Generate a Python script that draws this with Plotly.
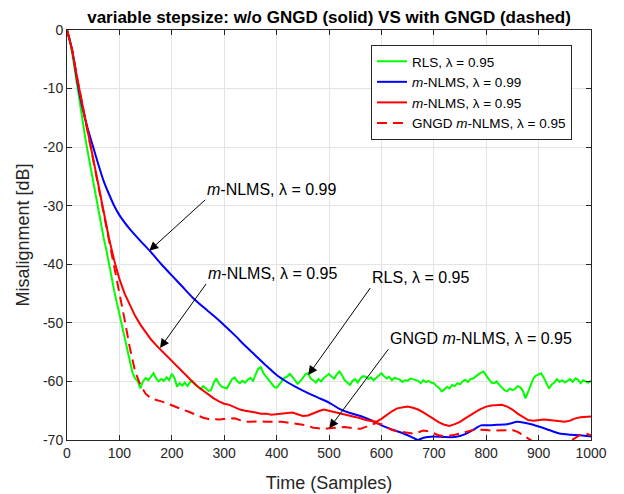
import plotly.graph_objects as go

# ---------------- data ----------------
n_rls = list(range(0, 1001, 5))
rls_db = [
    0, -1.5, -4, -7, -10, -12.5, -15.5, -18.5, -21, -23.5,
    -26, -28.5, -30.5, -33, -35.5, -37.5, -40, -42, -44.5, -46.5,
    -48.5, -50.5, -52.5, -54.5, -56.5, -58.5, -59.5, -60, -61.2, -60,
    -59.4, -59.8, -59.2, -58.6, -59.5, -60, -59.6, -59.9, -59.3, -59.8,
    -58.7, -59.4, -60.9, -60.3, -60.7, -60.2, -60.8, -60.1, -60, -60.6,
    -60.9, -61.3, -60.8, -61.2, -61.6, -61.5, -60.2, -59.5, -60.4, -60.9,
    -61, -61.2, -60.4, -59.6, -59.3, -60, -60.3, -59.9, -60.2, -59.7,
    -59.4, -59.9, -58.8, -57.8, -57.6, -58.6, -59.2, -59.8, -60.4, -60.9,
    -61.1, -60.5, -60, -59.4, -59.2, -58.7, -59.2, -59.9, -60.4, -60,
    -59.4, -58.8, -58.6, -59.5, -59.8, -60.2, -59.6, -60, -59.4, -59.1,
    -58.7, -59.2, -59.5, -58.8, -58.3, -59, -59.8, -60.2, -60.6, -59.9,
    -59.6, -60.2, -59.5, -59.1, -59.2, -59.6, -59.3, -59.8, -59.4, -58.9,
    -58.6, -59.1, -59.5, -59.2, -59.8, -59.4, -59.6, -59.7, -60.1, -59.8,
    -59.9, -59.5, -59.6, -59.7, -59.9, -60.3, -59.8, -60.1, -59.9, -60.2,
    -60.3, -60.8, -61.1, -61.7, -61.4, -60.9, -61.2, -60.6, -60.8, -60.3,
    -60.5, -60, -59.7, -60.1, -59.6, -59.5, -59.1, -58.8, -58.5, -58.3,
    -59, -59.6, -60.2, -60.3, -60, -60.6, -61.1, -61.5, -61.7, -61.2,
    -61.5, -61.3, -60.8, -61, -61.6, -62.9, -61.8, -60.6, -59.5, -59,
    -58.8, -58.6, -59.4, -60.3, -61.2, -60.5, -60.2, -59.6, -60.1, -59.8,
    -60.2, -59.9, -59.6, -60.1, -59.5, -59.7, -60.3, -59.8, -60, -60.2,
    -59.9,
]

n_nlms99 = [0, 10, 20, 30, 40, 50, 60, 70, 80, 90, 100, 120, 140, 160, 180,
            200, 220, 240, 260, 280, 300, 320, 340, 360, 380, 400, 420, 440,
            460, 480, 500, 520, 540, 560, 580, 600, 620, 640, 660, 670, 680,
            700, 720, 740, 760, 780, 790, 800, 820, 840, 860, 880, 900, 920,
            940, 960, 980, 1000]
nlms99_db = [0, -3.5, -9, -13.5, -17, -20, -23, -25.8, -28, -30, -31.6, -34,
             -36, -37.9, -40, -41.9, -43.8, -45.7, -47.3, -48.8, -50.4, -52.1,
             -53.9, -55.6, -57.3, -58.9, -60.1, -61.1, -62, -62.8, -63.6,
             -64.7, -65.4, -65.9, -66.6, -67.5, -68.2, -68.8, -69.6, -70,
             -69.6, -69.4, -69.5, -69.5, -69, -68, -67.5, -67.5, -67.4, -67.3,
             -66.9, -67.2, -67.7, -68.3, -68.9, -69.1, -69.2, -69.4]

n_step10 = list(range(0, 1001, 10))
nlms95_db = [
    0, -3.5, -8.5, -13, -17.5, -22, -26.5, -31, -35.5, -39.3,
    -42.5, -45, -47, -48.8, -50.3, -51.6, -52.8, -53.8, -54.7, -55.7,
    -56.6, -57.5, -58.4, -59.3, -60.1, -60.9, -61.6, -62.3, -62.9, -63.4,
    -63.8, -64, -64.4, -64.8, -65, -65.1, -65.3, -65.5, -65.5, -65.7,
    -65.6, -65.5, -65.4, -65.3, -65.6, -65.9, -65.8, -65.4, -65.1, -64.8,
    -65, -65.3, -65.4, -65.6, -65.8, -66, -66.3, -66.6, -66.8, -66.9,
    -66.4, -65.7, -65.1, -64.6, -64.4, -64.3, -64.5, -64.8, -65.3, -65.9,
    -66.5, -67, -67.4, -67.6, -67.3, -66.9, -66.3, -65.7, -65.2, -64.7,
    -64.3, -64.1, -64, -64, -64.3, -64.8, -65.5, -66.1, -66.6, -66.7,
    -66.6, -66.5, -66.6, -66.7, -66.8, -66.9, -66.7, -66.3, -66.1, -66,
    -66,
]
gngd95_db = [
    0, -3.5, -8.5, -13, -17.5, -22, -26.5, -31, -35.5, -40.2,
    -45, -49.5, -54.3, -58.3, -60.6, -62.1, -62.9, -63.1, -63.4, -63.7,
    -64.1, -64.4, -64.8, -65.1, -65.5, -65.9, -66.2, -66.4, -66.5, -66.5,
    -66.4, -66.3, -66.3, -66.6, -66.9, -66.9, -66.8, -66.8, -66.9, -66.9,
    -66.8, -66.9, -67, -67.1, -67.2, -67.4, -67.6, -67.9, -68, -68.1,
    -68, -67.9, -67.8, -67.8, -67.9, -68.1, -68.1, -67.8, -67.4, -67.1,
    -67.3, -67.8, -68.3, -68.5, -68.6, -68.8, -68.9, -68.7, -68.4, -68.5,
    -68.9, -69.2, -69.4, -69.3, -69.1, -68.9, -68.6, -68.4, -68.2, -68.2,
    -68.3, -68.4, -68.4, -68.4, -68.3, -68.3, -68.6, -69.2, -69.8, -70.3,
    -70.6, -70.8, -70.8, -70.7, -70.6, -70.4, -70.2, -69.6, -69.1, -68.9,
    -69.2,
]

x_tick_vals = [0, 100, 200, 300, 400, 500, 600, 700, 800, 900, 1000]
x_tick_text = ["0", "100", "200", "300", "400", "500", "600", "700", "800", "900", "1000"]
y_tick_vals = [0, -10, -20, -30, -40, -50, -60, -70]
y_tick_text = ["0", "-10", "-20", "-30", "-40", "-50", "-60", "-70"]

labels = {
    "rls": "RLS, λ = 0.95",
    "n99": "<i>m</i>-NLMS, λ = 0.99",
    "n95": "<i>m</i>-NLMS, λ = 0.95",
    "gngd": "GNGD <i>m</i>-NLMS, λ = 0.95",
}

# annotation arrow heads (data coords) and tail offsets (pixels)
ann_points = [
    ("n99", 157, -37.7, 56, -51),
    ("n95", 177.5, -54.3, 46, -64),
    ("rls", 460.5, -58.9, 62, -87),
    ("gngd", 500.6, -68.0, 59, -79),
]

FONT = "Liberation Sans, Arial, Helvetica, sans-serif"
TXT = "#262626"

fig = go.Figure()
fig.add_trace(go.Scatter(x=n_rls, y=rls_db, mode="lines", name=labels["rls"],
                         line=dict(color="#00ff00", width=2)))
fig.add_trace(go.Scatter(x=n_nlms99, y=nlms99_db, mode="lines", name=labels["n99"],
                         line=dict(color="#0000ff", width=2, shape="spline", smoothing=0.6)))
fig.add_trace(go.Scatter(x=n_step10, y=nlms95_db, mode="lines", name=labels["n95"],
                         line=dict(color="#ff0000", width=2)))
fig.add_trace(go.Scatter(x=n_step10, y=gngd95_db, mode="lines", name=labels["gngd"],
                         line=dict(color="#ff0000", width=2, dash="10px,6px")))

for key, hx, hy, ax, ay in ann_points:
    fig.add_annotation(x=hx, y=hy, xref="x", yref="y", text=labels[key],
                       showarrow=True, ax=ax, ay=ay, axref="pixel", ayref="pixel",
                       xanchor="left", yanchor="bottom",
                       arrowhead=2, arrowsize=1.8, arrowwidth=1, arrowcolor="black",
                       font=dict(family=FONT, size=16, color="black"))

fig.update_layout(
    width=624, height=494, autosize=False,
    margin=dict(l=59, r=41, t=22, b=62, autoexpand=False),
    paper_bgcolor="white", plot_bgcolor="white",
    font=dict(family=FONT, size=14, color=TXT),
    title=dict(text="variable stepsize: w/o GNGD (solid) VS with GNGD (dashed)",
               x=0.5, xref="paper", xanchor="center",
               y=1 - 3 / 494, yref="container", yanchor="top", pad=dict(t=0, b=0),
               font=dict(family=FONT, size=17, color="black", weight="bold")),
    showlegend=True,
    legend=dict(x=0.9637, y=0.9634, xanchor="right", yanchor="top",
                bgcolor="white", bordercolor="#262626", borderwidth=1,
                font=dict(family=FONT, size=13.5, color="black"),
                tracegroupgap=0),
    xaxis=dict(range=[0, 1000], tickvals=x_tick_vals, ticktext=x_tick_text,
               showgrid=True, gridcolor="#e3e3e3", gridwidth=1,
               showline=True, linecolor=TXT, linewidth=1, mirror="ticks",
               ticks="inside", ticklen=5, tickcolor=TXT,
               zeroline=False, automargin=False,
               title=dict(text="Time (Samples)", font=dict(size=18, color=TXT), standoff=16),
               tickfont=dict(size=14, color=TXT)),
    yaxis=dict(range=[-70, 0], tickvals=y_tick_vals, ticktext=y_tick_text,
               showgrid=True, gridcolor="#e3e3e3", gridwidth=1,
               showline=True, linecolor=TXT, linewidth=1, mirror="ticks",
               ticks="inside", ticklen=5, tickcolor=TXT,
               zeroline=False, automargin=False,
               title=dict(text="Misalignment [dB]", font=dict(size=18, color=TXT), standoff=8),
               tickfont=dict(size=14, color=TXT)),
)

fig.write_html("out.html")
